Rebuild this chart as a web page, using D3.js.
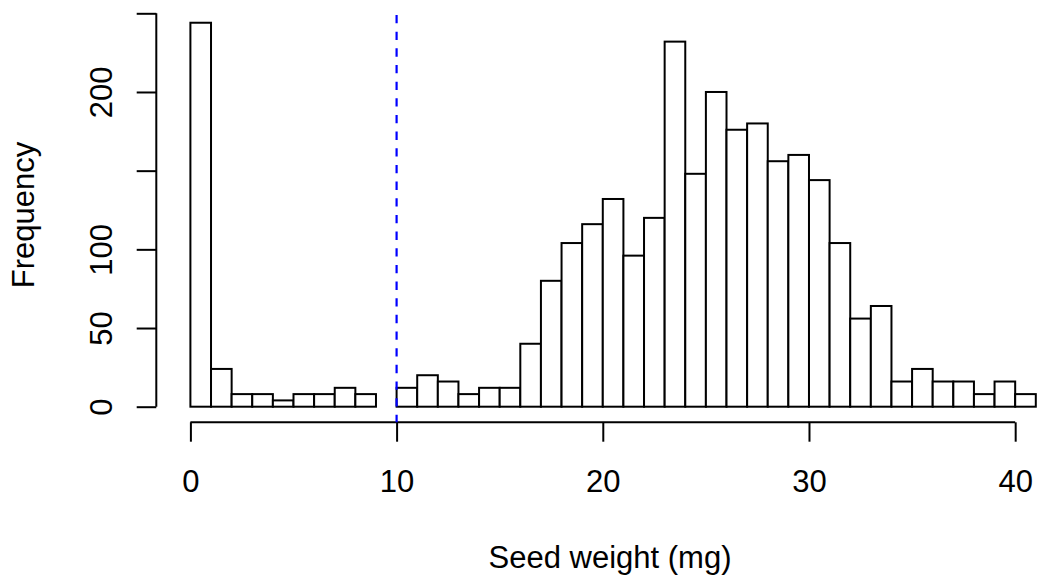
<!DOCTYPE html>
<html>
<head>
<meta charset="utf-8">
<script src="https://cdn.jsdelivr.net/npm/d3@7"></script>
<style>
  html, body { margin: 0; padding: 0; background: #fff; }
  svg { display: block; }
  text { font-family: "Liberation Sans", Arial, Helvetica, sans-serif; fill: #000; }
</style>
</head>
<body>
<svg id="chart" width="1038" height="576"></svg>
<script>
// Histogram bin edges (mg)
const breaks = [0,1,2,3,4,5,6,7,8,9,10,11,12,13,14,15,16,17,18,19,20,21,22,23,24,25,26,27,28,29,30,31,32,33,34,35,36,37,38,39,40,41];
// Frequency per bin
const counts = [244,24,8,8,4,8,8,12,8,0,12,20,16,8,12,12,40,80,104,116,132,96,120,232,148,200,176,180,156,160,144,104,56,64,16,24,16,16,8,16,8];
const xTicks = [0,10,20,30,40];
const yTicks = [0,50,100,150,200,250];
const yTickLabels = ["0","50","100","","200",""];
const cutoff = 10;
const xLabel = "Seed weight (mg)";
const yLabel = "Frequency";

const FS = "31px";
const svg = d3.select("#chart");

const x = d3.scaleLinear().domain([0, 41]).range([190.4, 1035.8]);
const y = d3.scaleLinear().domain([0, 250]).range([406.7, 13.3]);

const plotTop = 7.5, plotBottom = 422.3, plotLeft = 156.3;

const bins = counts.map((c, i) => ({x0: breaks[i], x1: breaks[i + 1], n: c}));

// bars
svg.append("g").selectAll("rect").data(bins).join("rect")
  .attr("x", d => x(d.x0))
  .attr("y", d => y(d.n))
  .attr("width", d => x(d.x1) - x(d.x0))
  .attr("height", d => y(0) - y(d.n))
  .attr("fill", "#fff")
  .attr("stroke", "#000")
  .attr("stroke-width", 2);

// x axis
const xAxis = d3.axisBottom(x).tickValues(xTicks).tickSize(19.4).tickPadding(0).tickFormat(d3.format("d"));
const gx = svg.append("g").attr("transform", `translate(0,${plotBottom})`).call(xAxis);
gx.select(".domain").attr("d", `M${x(0)},0H${x(40)}`).attr("stroke", "#000").attr("stroke-width", 2);
gx.selectAll(".tick line").attr("stroke", "#000").attr("stroke-width", 2);
gx.selectAll(".tick text").attr("y", 492 - plotBottom).attr("dy", null)
  .style("font-size", FS).attr("fill", "#000");

// y axis
const yAxis = d3.axisLeft(y).tickValues(yTicks).tickSize(19.6).tickFormat((d, i) => yTickLabels[i]);
const gy = svg.append("g").attr("transform", `translate(${plotLeft},0)`).call(yAxis);
gy.select(".domain").attr("d", `M0,${y(0)}V${y(250)}`).attr("stroke", "#000").attr("stroke-width", 2);
gy.selectAll(".tick line").attr("stroke", "#000").attr("stroke-width", 2);
gy.selectAll(".tick text")
  .attr("x", null).attr("dy", null)
  .attr("transform", `translate(${112 - plotLeft},0) rotate(-90)`)
  .attr("text-anchor", "middle")
  .style("font-size", FS).attr("fill", "#000");

// cutoff line
svg.append("line")
  .attr("x1", x(cutoff)).attr("x2", x(cutoff))
  .attr("y1", plotTop).attr("y2", plotBottom)
  .attr("stroke", "#0000ff").attr("stroke-width", 2.2)
  .attr("stroke-dasharray", "8.33,8.33")
  .attr("stroke-dashoffset", 9.17);

// axis titles
svg.append("text").attr("x", 610).attr("y", 568).attr("text-anchor", "middle")
  .style("font-size", FS).text(xLabel);
svg.append("text").attr("transform", "translate(34,215) rotate(-90)").attr("text-anchor", "middle")
  .style("font-size", FS).text(yLabel);
</script>
</body>
</html>
